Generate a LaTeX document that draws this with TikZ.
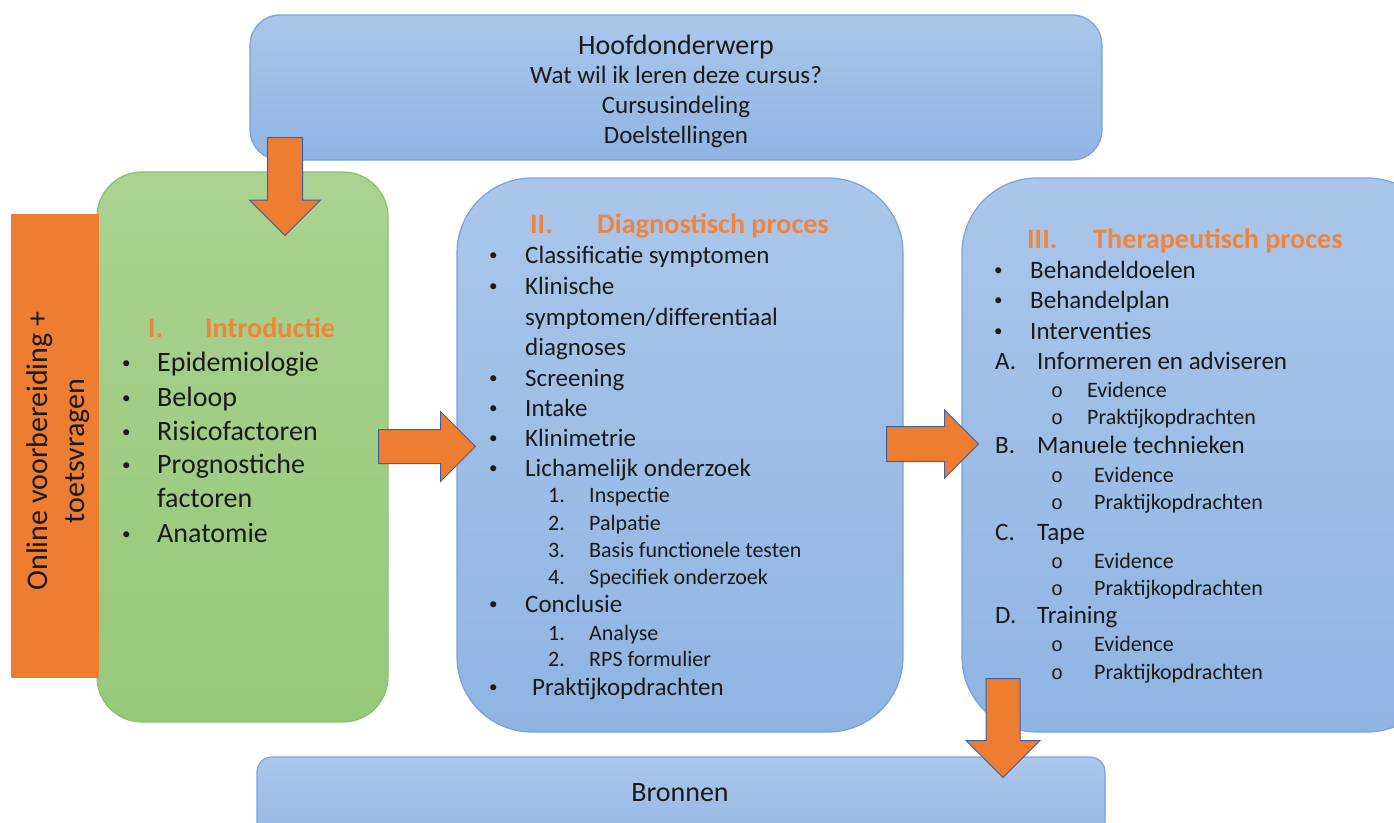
\documentclass[tikz,border=0pt]{standalone}
\usepackage{fontspec}
\setmainfont{Carlito}
\setmonofont{Liberation Mono}
\usetikzlibrary{shapes.arrows,positioning}

\definecolor{blokboven}{HTML}{AAC6EA}
\definecolor{blokonder}{HTML}{8FB4E2}
\definecolor{blokrand}{HTML}{7BA3D8}
\definecolor{groenboven}{HTML}{AAD190}
\definecolor{groenonder}{HTML}{97C87A}
\definecolor{groenrand}{HTML}{8ABF6C}
\definecolor{oranje}{HTML}{ED7D31}
\definecolor{koporanje}{HTML}{F2843A}
\definecolor{pijlrand}{HTML}{3F5F9F}
\definecolor{tekstzwart}{HTML}{1A1A1A}

\newcommand{\stip}{\raisebox{2.5pt}{\fontsize{17}{20}\selectfont •}}

\tikzset{
  blok/.style={draw=blokrand, line width=1.2pt, top color=blokboven, bottom color=blokonder, inner sep=0},
  groenblok/.style={draw=groenrand, line width=1.2pt, top color=groenboven, bottom color=groenonder, inner sep=0},
  pijl/.style={single arrow, draw=pijlrand, fill=oranje, line width=1pt, inner xsep=0, single arrow tip angle=90, anchor=tail},
  regel/.style={anchor=base west, inner sep=0, text=tekstzwart, font=\fontsize{25}{30}\selectfont},
  subregel/.style={anchor=base west, inner sep=0, text=tekstzwart, font=\fontsize{22}{26}\selectfont},
  grootregel/.style={anchor=base west, inner sep=0, text=tekstzwart, font=\fontsize{28}{34}\selectfont},
  kop/.style={anchor=base west, inner sep=0, text=koporanje, font=\fontsize{28.2}{30}\selectfont\bfseries}
}

\begin{document}
\begin{tikzpicture}[x=1pt, y=-1pt]
\useasboundingbox (0,0) rectangle (1394,822);

% blokken
\node[blok, rounded corners=30pt, minimum width=852pt, minimum height=145pt] (hoofd) at (676,87.5) {};
\node[groenblok, rounded corners=45pt, minimum width=291pt, minimum height=550pt] (intro) at (242.5,447) {};
\node[fill=oranje, inner sep=0, minimum width=88pt, minimum height=464pt] (online) at (55,446) {};
\node[blok, rounded corners=75pt, minimum width=446pt, minimum height=554pt] (diag) at (680,455) {};
\node[blok, rounded corners=75pt, minimum width=480pt, minimum height=554pt] (thera) at (1202,455) {};
\node[blok, rounded corners=15pt, minimum width=848pt, minimum height=110pt] (bronnen) at (681,812) {};

% pijlen
\node[pijl, rotate=-90, minimum height=98pt, inner ysep=17pt, single arrow head extend=18pt] (pijl1) at (285,137) {};
\node[pijl, minimum height=97pt, inner ysep=16.5pt, single arrow head extend=18pt] (pijl2) at (378,446.5) {};
\node[pijl, minimum height=92pt, inner ysep=17pt, single arrow head extend=16.5pt] (pijl3) at (886,444) {};
\node[pijl, rotate=-90, minimum height=99pt, inner ysep=16.5pt, single arrow head extend=20pt] (pijl4) at (1003,678) {};

% hoofdonderwerp
\node[regel, anchor=base, font=\fontsize{28}{30}\selectfont] (h1) at (676,54) {Hoofdonderwerp};
\foreach \y/\t [count=\i from 2] in {83/Wat wil ik leren deze cursus?, 113/Cursusindeling, 143/Doelstellingen}
  \node[regel, anchor=base] (h\i) at (676,\y) {\t};

% online voorbereiding
\node[rotate=90, align=center, inner sep=0, text=tekstzwart, font=\fontsize{30}{37}\selectfont] (onlinetekst) at (58,451) {Online voorbereiding +\\toetsvragen};

% I. introductie
\node[kop] (ikop1) at (148,337) {I.};
\node[kop] (ikop2) at (205,337) {Introductie};
\foreach \y [count=\i] in {371,406,440,473,542}
  \node[grootregel] (ib\i) at (122,\y) {\stip};
\foreach \y/\t [count=\i] in {371/Epidemiologie, 406/Beloop, 440/Risicofactoren, 473/Prognostiche, 507/factoren, 542/Anatomie}
  \node[grootregel] (i\i) at (157,\y) {\t};

% II. diagnostisch proces
\node[kop] (dkop1) at (530,233) {II.};
\node[kop] (dkop2) at (597,233) {Diagnostisch proces};
\foreach \y in {263,294,386,416,446,476,612,695}
  \node[regel] (db\y) at (489,\y) {\stip};
\foreach \y/\t [count=\i] in {263/Classificatie symptomen, 294/Klinische, 325/{symptomen/differentiaal}, 355/diagnoses, 386/Screening, 416/Intake, 446/Klinimetrie, 476/Lichamelijk onderzoek, 612/Conclusie}
  \node[regel] (d\i) at (525,\y) {\t};
\node[regel] (d10) at (532,695) {Praktijkopdrachten};
\foreach \y/\n/\t [count=\i] in {502/1./Inspectie, 530/2./Palpatie, 557/3./Basis functionele testen, 584/4./Specifiek onderzoek, 640/1./Analyse, 666/2./RPS formulier}
  {\node[subregel] (dn\i) at (548,\y) {\n};
   \node[subregel] (ds\i) at (589,\y) {\t};}

% III. therapeutisch proces
\node[kop] (tkop1) at (1027,248) {III.};
\node[kop] (tkop2) at (1093,248) {Therapeutisch proces};
\foreach \y/\t [count=\i] in {278/Behandeldoelen, 308/Behandelplan, 339/Interventies}
  {\node[regel] (tb\i) at (994,\y) {\stip};
   \node[regel] (t\i) at (1030,\y) {\t};}
\foreach \y/\n/\t [count=\i] in {369/A./Informeren en adviseren, 453/B./Manuele technieken, 540/C./Tape, 623/D./Training}
  {\node[regel] (tl\i) at (995,\y) {\n};
   \node[regel] (tt\i) at (1037,\y) {\t};}
\foreach \y/\x/\t [count=\i] in {397/1087/Evidence, 424/1087/Praktijkopdrachten, 482/1094/Evidence, 509/1094/Praktijkopdrachten, 568/1094/Evidence, 595/1094/Praktijkopdrachten, 651/1094/Evidence, 679/1094/Praktijkopdrachten}
  {\node[subregel, font=\fontsize{20}{22}\ttfamily] (to\i) at (1051,\y) {o};
   \node[subregel] (ts\i) at (\x,\y) {\t};}

% bronnen
\node[regel, anchor=base, font=\fontsize{28}{30}\selectfont] (btekst) at (680,801) {Bronnen};
\end{tikzpicture}
\end{document}
